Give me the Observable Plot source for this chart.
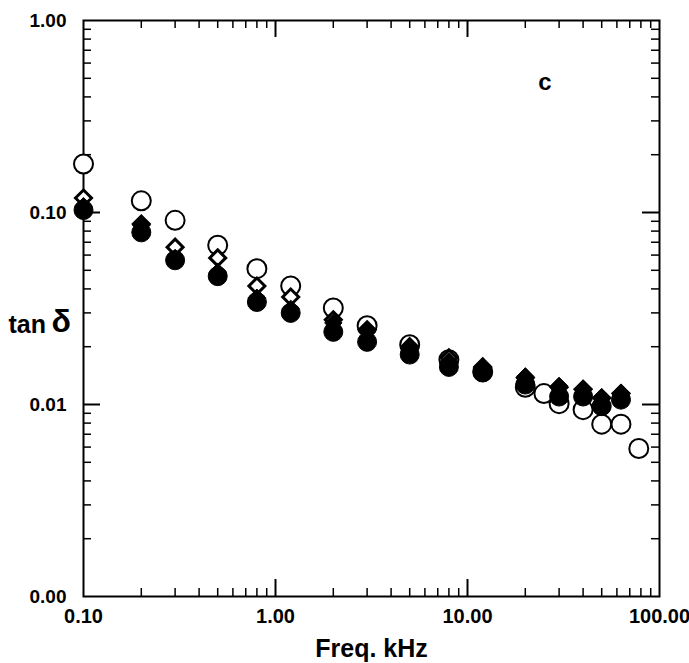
<!DOCTYPE html>
<html><head><meta charset="utf-8">
<script src="https://cdn.jsdelivr.net/npm/d3@7"></script>
<script src="https://cdn.jsdelivr.net/npm/@observablehq/plot@0.6"></script>
<style>body{margin:0;background:#fff}</style>
</head><body><div id="chart"></div>
<script>
// Series: frequency (kHz) and tan δ
const freqOpenCircle = [0.1,0.2,0.3,0.5,0.8,1.2,2,3,5,8,12,20,25,30,40,50,63,78];
const tanOpenCircle  = [0.179,0.115,0.091,0.0675,0.051,0.0414,0.0318,0.0257,0.0205,0.0171,0.0148,0.0123,0.0114,0.0101,0.0094,0.0079,0.0079,0.0059];

const freqDiamonds = [0.1,0.2,0.3,0.5,0.8,1.2,2,3,5,8,12,20,30,40,50,63];
const tanOpenDiamond   = [0.119,0.087,0.066,0.058,0.0414,0.0363,0.0276,0.0245,0.0200,0.0175,0.0157,0.0138,0.0123,0.0120,0.0108,0.0114];
const tanFilledDiamond = [0.108,0.0857,0.058,0.049,0.036,0.0315,0.0266,0.0239,0.0195,0.0168,0.0157,0.0140,0.0125,0.0121,0.0109,0.0115];

const freqFilledCircle = [0.1,0.2,0.3,0.5,0.8,1.2,2,3,5,8,12,20,30,40,50,63];
const tanFilledCircle  = [0.103,0.0788,0.0564,0.0466,0.0342,0.0300,0.0239,0.0212,0.0182,0.0157,0.0147,0.0127,0.0110,0.0110,0.0098,0.0106];

// Axis ticks
const xLabelTicks = [0.1,1,10,100];
const yLabelTicks = [0.001,0.01,0.1,1];
const xMajorTicks = [1,10];
const xMinorTicks = [0.2,0.3,0.4,0.5,0.6,0.7,0.8,0.9,2,3,4,5,6,7,8,9,20,30,40,50,60,70,80,90];
const yMajorTicks = [0.01,0.1];
const yMinorTicks = [0.002,0.003,0.004,0.005,0.006,0.007,0.008,0.009,0.02,0.03,0.04,0.05,0.06,0.07,0.08,0.09,0.2,0.3,0.4,0.5,0.6,0.7,0.8,0.9];

const xTitle = "Freq. kHz";
const panelLabel = "c";

const W = 689, H = 663;
const mL = 83, mR = 30, mT = 20, mB = 67;
const pw = W - mL - mR, ph = H - mT - mB;
const majLen = 17, minLen = 8;

const zip = (xs, ys) => xs.map((x, i) => ({x, y: ys[i]}));
const fmt = d3.format(".2f");

const chart = Plot.plot({
  width: W, height: H,
  marginLeft: mL, marginRight: mR, marginTop: mT, marginBottom: mB,
  style: {fontFamily: "'Liberation Sans', Arial, sans-serif", fontWeight: "bold", color: "black", background: "white"},
  x: {type: "log", domain: [0.1, 100], axis: null},
  y: {type: "log", domain: [0.001, 1], axis: null},
  marks: [
    // ticks inward: bottom / top
    Plot.tickX(xMajorTicks, {x: d => d, insetTop: ph - majLen, stroke: "black", strokeWidth: 2}),
    Plot.tickX(xMinorTicks, {x: d => d, insetTop: ph - minLen, stroke: "black", strokeWidth: 1.5}),
    Plot.tickX(xMajorTicks, {x: d => d, insetBottom: ph - majLen, stroke: "black", strokeWidth: 2}),
    Plot.tickX(xMinorTicks, {x: d => d, insetBottom: ph - minLen, stroke: "black", strokeWidth: 1.5}),
    // ticks inward: left / right
    Plot.tickY(yMajorTicks, {y: d => d, insetRight: pw - majLen, stroke: "black", strokeWidth: 2}),
    Plot.tickY(yMinorTicks, {y: d => d, insetRight: pw - minLen, stroke: "black", strokeWidth: 1.5}),
    Plot.tickY(yMajorTicks, {y: d => d, insetLeft: pw - majLen, stroke: "black", strokeWidth: 2}),
    Plot.tickY(yMinorTicks, {y: d => d, insetLeft: pw - minLen, stroke: "black", strokeWidth: 1.5}),
    Plot.frame({stroke: "black", strokeWidth: 2}),
    // tick labels
    Plot.text(xLabelTicks, {x: d => d, text: d => fmt(d), frameAnchor: "bottom", lineAnchor: "top", dy: 12, fontSize: 20, fill: "black"}),
    Plot.text(yLabelTicks, {y: d => d, text: d => fmt(d), frameAnchor: "left", textAnchor: "end", dx: -17, fontSize: 19, fill: "black"}),
    // data
    Plot.dot(zip(freqOpenCircle, tanOpenCircle), {x: "x", y: "y", symbol: "circle", r: 9.5, fill: "white", stroke: "black", strokeWidth: 2}),
    Plot.dot(zip(freqDiamonds, tanOpenDiamond), {x: "x", y: "y", symbol: "diamond2", r: 7.2, fill: "white", stroke: "black", strokeWidth: 3}),
    Plot.dot(zip(freqDiamonds, tanFilledDiamond), {x: "x", y: "y", symbol: "diamond2", r: 7.8, fill: "black", stroke: "black", strokeWidth: 1}),
    Plot.dot(zip(freqFilledCircle, tanFilledCircle), {x: "x", y: "y", symbol: "circle", r: 9.5, fill: "black", stroke: "black", strokeWidth: 1}),
    // titles
    Plot.text([xTitle], {frameAnchor: "bottom", dy: 60, fontSize: 25, fill: "black"}),
    Plot.text(["tan"], {frameAnchor: "left", dx: -75, dy: 16, textAnchor: "start", fontSize: 25, fill: "black"}),
    Plot.text(["δ"], {frameAnchor: "left", dx: -32, dy: 13, textAnchor: "start", fontSize: 32, fill: "black"}),
    Plot.text([panelLabel], {frameAnchor: "top-right", dx: -108, dy: 52, fontSize: 24, fill: "black"})
  ]
});
document.getElementById("chart").appendChild(chart);
</script>
</body></html>
